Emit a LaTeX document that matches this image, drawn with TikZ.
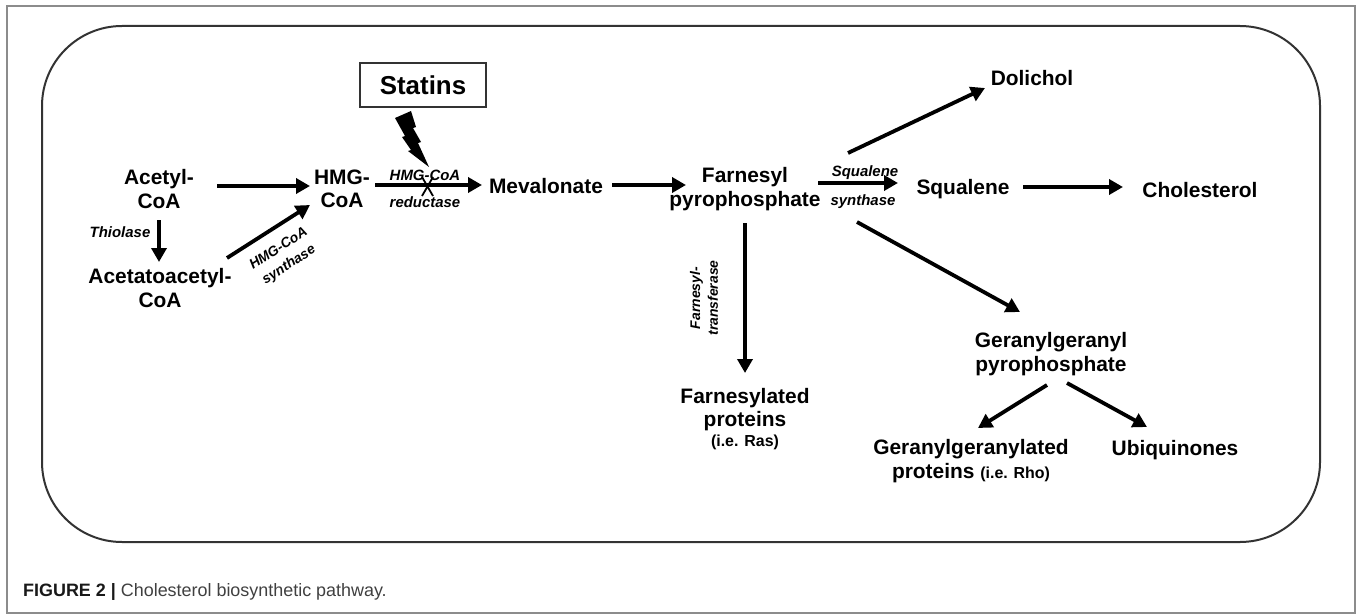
\documentclass[tikz,border=0pt]{standalone}
\usepackage{fontspec}
\setmainfont{Liberation Sans}
\usetikzlibrary{arrows.meta}
\begin{document}
\begin{tikzpicture}[x=1bp,y=-1bp,
  lbl/.style={font=\fontsize{21}{23.5}\selectfont\bfseries, align=center, inner sep=0pt},
  enz/.style={font=\fontsize{15}{17}\selectfont\bfseries\itshape, align=center, inner sep=0pt},
  arr/.style={line width=3.8bp, -{Triangle[length=14bp,width=15bp]}}]
\useasboundingbox (0,0) rectangle (1358,615);
\draw[black!45, line width=1.2bp] (7,6) rectangle (1355,613);
\draw[black!80, line width=2bp, rounded corners=80bp] (42,26) rectangle (1320,542);

% nodes
\node[lbl] (acetyl) at (159,189) {Acetyl-\\CoA};
\node[lbl] (acetoac) at (160,288) {Acetatoacetyl-\\CoA};
\node[lbl] (hmg) at (342,189) {HMG-\\CoA};
\node[lbl] (mev) at (546,186) {Mevalonate};
\node[lbl] (fpp) at (745,189) {Farnesyl\\pyrophosphate};
\node[lbl] (sq) at (963,189) {Squalene};
\node[lbl] (chol) at (1200,190) {Cholesterol};
\node[lbl] (dol) at (1032,78) {Dolichol};
\node[lbl] (ggpp) at (1051,354) {Geranylgeranyl\\pyrophosphate};
\node[lbl] (fprot) at (745,419) {Farnesylated\\proteins\\[-3bp]{\fontsize{16}{18}\selectfont (i.e. Ras)}};
\node[lbl] (ggprot) at (971,461) {Geranylgeranylated\\proteins {\fontsize{16}{18}\selectfont (i.e. Rho)}};
\node[lbl] (ubi) at (1175,450) {Ubiquinones};
\node[draw=black!80, line width=1.5bp, font=\fontsize{26}{30}\selectfont\bfseries,
      minimum width=126bp, minimum height=44bp, inner sep=0pt] (statins) at (423,85) {Statins};

% enzyme labels
\node[enz] (thiolase) at (120,232) {Thiolase};
\node[enz, rotate=33, font=\fontsize{14}{18}\selectfont\bfseries\itshape] (hmgs1) at (278,248) {HMG-CoA};
\node[enz, rotate=33, font=\fontsize{14}{18}\selectfont\bfseries\itshape] (hmgs2) at (289,265) {synthase};
\node[enz] (hmgr1) at (425,175) {HMG-CoA};
\node[enz] (hmgr2) at (425,202) {reductase};
\node[enz] (sqs1) at (865,173) {Squalene};
\node[enz] (sqs2) at (863,202) {synthase};
\node[enz, rotate=90, font=\fontsize{14}{18}\selectfont\bfseries\itshape] (ftase) at (704,298) {Farnesyl-\\transferase};

% arrows
\draw[arr] ([shift={(58,-3)}]acetyl.center) -- ([shift={(-32,-3)}]hmg.center);
\draw[arr] ([shift={(0,31)}]acetyl.center) -- ([shift={(-1,-26)}]acetoac.center);
\draw[arr] ([shift={(67,-30)}]acetoac.center) -- ([shift={(-32,16)}]hmg.center);
\draw[arr] ([shift={(33,-4)}]hmg.center) -- ([shift={(-64,-1)}]mev.center);
\draw[arr] ([shift={(66,-1)}]mev.center) -- ([shift={(-59,-4)}]fpp.center);
\draw[arr] ([shift={(73,-6)}]fpp.center) -- ([shift={(-65,-6)}]sq.center);
\draw[arr] ([shift={(60,-2)}]sq.center) -- ([shift={(-77,-3)}]chol.center);
\draw[arr] ([shift={(103,-36)}]fpp.center) -- ([shift={(-47,10)}]dol.center);
\draw[arr] ([shift={(112,33)}]fpp.center) -- ([shift={(-31,-42)}]ggpp.center);
\draw[arr] ([shift={(0,34)}]fpp.center) -- ([shift={(0,-46)}]fprot.center);
\draw[arr] ([shift={(-4,31)}]ggpp.center) -- ([shift={(7,-33)}]ggprot.center);
\draw[arr] ([shift={(16,29)}]ggpp.center) -- ([shift={(-28,-23)}]ubi.center);

% inhibition X
\draw[line width=1.8bp] (422,177) -- (433,196) (433,177) -- (422,196);
% lightning bolt
\fill (395,118) -- (411,111) -- (416,127) -- (413,128) -- (421,142) -- (418,143)
  -- (429,167) -- (408,151) -- (411,150) -- (402,137) -- (405,136) -- cycle;

% caption
\node[anchor=west, inner sep=0pt, font=\fontsize{18}{20}\selectfont] (caption) at (23,592)
  {\textcolor{black!90}{\textbf{FIGURE 2 |}} \textcolor{black!75}{Cholesterol biosynthetic pathway.}};
\end{tikzpicture}
\end{document}
